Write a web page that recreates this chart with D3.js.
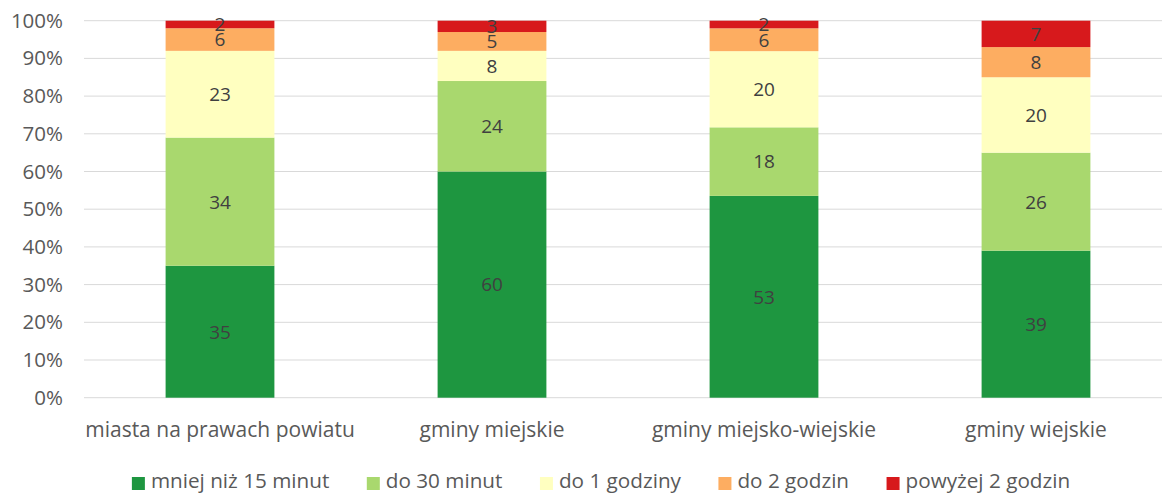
<!DOCTYPE html>
<html>
<head>
<meta charset="utf-8">
<script src="https://cdn.jsdelivr.net/npm/d3@7"></script>
<style>
  body { margin: 0; background: #fff; }
  svg { display: block; font-family: "Open Sans", "Liberation Sans", Arial, sans-serif; }
</style>
</head>
<body>
<svg id="chart" width="1162" height="493"></svg>
<script>
const categories = ["miasta na prawach powiatu", "gminy miejskie", "gminy miejsko-wiejskie", "gminy wiejskie"];
const seriesNames = ["mniej niż 15 minut", "do 30 minut", "do 1 godziny", "do 2 godzin", "powyżej 2 godzin"];
const seriesColors = ["#1e9640", "#a9d86e", "#ffffc0", "#fdad61", "#d7191c"];
const lessThan15 = [35, 60, 53, 39];
const upTo30 = [34, 24, 18, 26];
const upTo1h = [23, 8, 20, 20];
const upTo2h = [6, 5, 6, 8];
const over2h = [2, 3, 2, 7];
const yTicks = [0, 0.1, 0.2, 0.3, 0.4, 0.5, 0.6, 0.7, 0.8, 0.9, 1];

const seriesValues = [lessThan15, upTo30, upTo1h, upTo2h, over2h];
const rows = categories.map((c, i) => {
  const r = { category: c };
  seriesNames.forEach((s, j) => r[s] = seriesValues[j][i]);
  return r;
});

const FONT = "'Open Sans', 'Liberation Sans', Arial, sans-serif";
const svg = d3.select("#chart");
const pLeft = 84, pRight = 1172, pTop = 20.7, pBottom = 397.7;

const x = d3.scaleBand().domain(categories).range([pLeft, pRight]).paddingInner(0.6).paddingOuter(0.3);
const y = d3.scaleLinear().domain([0, 1]).range([pBottom, pTop]);

const stack = d3.stack().keys(seriesNames).offset(d3.stackOffsetExpand);
const stacked = stack(rows);

// gridlines
svg.append("g").selectAll("line").data(yTicks).join("line")
  .attr("x1", pLeft).attr("x2", pRight)
  .attr("y1", d => y(d)).attr("y2", d => y(d))
  .attr("stroke", "#d9d9d9").attr("stroke-width", 1);

// y axis labels
const yAxis = d3.axisLeft(y).tickValues(yTicks).tickFormat(d3.format(".0%")).tickSize(0).tickPadding(0);
const yg = svg.append("g").attr("transform", `translate(${63},0)`).call(yAxis);
yg.select(".domain").remove();
yg.selectAll("text").attr("fill", "#595959").attr("font-size", 20.5).attr("font-family", FONT);

// bars
const groups = svg.append("g").selectAll("g").data(stacked).join("g")
  .attr("fill", (d, i) => seriesColors[i]);
groups.selectAll("rect").data(d => d.map(p => ({ p, key: d.key }))).join("rect")
  .attr("x", d => x(d.p.data.category))
  .attr("width", x.bandwidth())
  .attr("y", d => y(d.p[1]))
  .attr("height", d => y(d.p[0]) - y(d.p[1]));

// data labels
const labels = svg.append("g");
stacked.forEach((s, i) => {
  s.forEach(p => {
    labels.append("text")
      .attr("x", x(p.data.category) + x.bandwidth() / 2)
      .attr("y", (y(p[0]) + y(p[1])) / 2)
      .attr("dy", "0.36em")
      .attr("text-anchor", "middle")
      .attr("fill", "#404040")
      .attr("font-size", 19)
      .attr("font-family", FONT)
      .text(p.data[s.key]);
  });
});

// x axis labels
const xAxis = d3.axisBottom(x).tickSize(0).tickPadding(0);
const xg = svg.append("g").attr("transform", `translate(0,${437})`).call(xAxis);
xg.select(".domain").remove();
xg.selectAll("text").attr("fill", "#595959").attr("font-size", 21).attr("dy", 0).attr("font-family", FONT);

// legend
const legend = svg.append("g");
let cx = 0;
const gap = 37.5;
seriesNames.forEach((name, i) => {
  const g = legend.append("g");
  g.append("rect").attr("x", 0).attr("y", -11).attr("width", 13).attr("height", 13).attr("fill", seriesColors[i]);
  const t = g.append("text").attr("x", 19).attr("y", 0).attr("fill", "#595959")
    .attr("font-size", 20.7).attr("font-family", FONT).text(name);
  const w = 19 + t.node().getComputedTextLength();
  g.attr("transform", `translate(${cx},0)`);
  cx += w + gap;
});
const total = cx - gap;
legend.attr("transform", `translate(${601 - total / 2},${488})`);
</script>
</body>
</html>
